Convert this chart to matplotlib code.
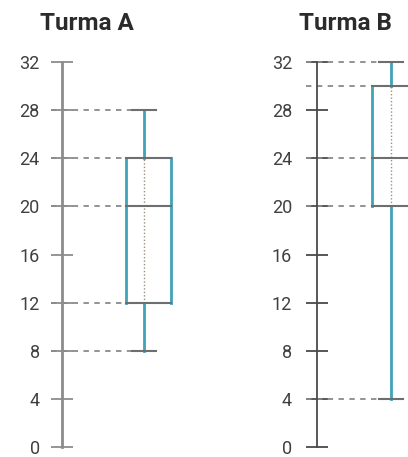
import matplotlib.pyplot as plt

# five-number summaries
turmas = ["Turma A", "Turma B"]
minimos = [8, 4]
q1s = [12, 20]
medianas = [20, 24]
q3s = [24, 30]
maximos = [28, 32]
yticks = [0, 4, 8, 12, 16, 20, 24, 28, 32]

W, H = 408, 457
teal = "#3fa3b8"
cinza = "#6b6f70"
tracejado = "#8a8a8a"

plt.rcParams["font.family"] = ["Roboto", "DejaVu Sans"]

fig = plt.figure(figsize=(W / 100, H / 100), dpi=100)
fig.patch.set_facecolor("white")

# panel layout in pixels: (left, right, axis x, box centre x, box left x, box right x,
#                          axis color, label pad, title centre x)
paineis = [
    (0, 204, 62, 144, 126, 171, "#8c8c8c", 8, 87),
    (204, 408, 317, 391, 372, 430, "#4a4a4a", 10, 345),
]
y0_px, y32_px = 447, 62

for i, (l, r, xa, xc, xbl, xbr, cor_eixo, pad, xt) in enumerate(paineis):
    ax = fig.add_axes([l / W, (H - y0_px) / H, (r - l) / W, (y0_px - y32_px) / H])
    esc = xc - xa  # pixels per x unit
    ax.set_xlim((l - xa) / esc, (r - xa) / esc)
    ax.set_ylim(0, 32)
    ax.patch.set_alpha(0)
    for s in ["top", "right", "bottom"]:
        ax.spines[s].set_visible(False)
    ax.spines["left"].set_position(("data", 0))
    ax.spines["left"].set_color(cor_eixo)
    ax.spines["left"].set_linewidth(2 if i == 0 else 1.3)
    ax.set_xticks([])
    ax.set_yticks(yticks)
    ax.tick_params(axis="y", direction="inout", length=16, width=1.3, color=cor_eixo,
                   labelsize=13, labelcolor="#404040", pad=pad)

    bl = (xbl - xa) / esc
    br = (xbr - xa) / esc
    cap = 12 / esc
    tk = 11 / esc

    # dashed guides from the axis to the box / caps
    for v, fim in [(maximos[i], 1 - cap), (q3s[i], bl), (medianas[i], bl),
                   (q1s[i], bl), (minimos[i], 1 - cap)]:
        ax.plot([-tk, fim], [v, v], color=tracejado, lw=1.3, ls=(0, (3, 3)), clip_on=False)

    # whiskers
    ax.plot([1, 1], [q3s[i], maximos[i]], color=teal, lw=2, clip_on=False)
    ax.plot([1, 1], [minimos[i], q1s[i]], color=teal, lw=2, clip_on=False)
    ax.plot([1, 1], [q1s[i], q3s[i]], color="#9a8f80", lw=1, ls=(0, (1, 1.5)))
    for v in [minimos[i], maximos[i]]:
        ax.plot([1 - cap, 1 + cap], [v, v], color=cinza, lw=1.5, clip_on=False)

    # box: teal sides, grey horizontal edges
    ax.plot([bl, bl], [q1s[i], q3s[i]], color=teal, lw=2)
    ax.plot([br, br], [q1s[i], q3s[i]], color=teal, lw=2)
    for v in [q1s[i], medianas[i], q3s[i]]:
        ax.plot([bl, br], [v, v], color=cinza, lw=1.5)

    fig.text(xt / W, 1 - 24 / H, turmas[i], ha="center", va="center",
             fontsize=17.5, fontweight="bold", color="#2b2b2b")

fig.savefig("out.png", dpi=100)
